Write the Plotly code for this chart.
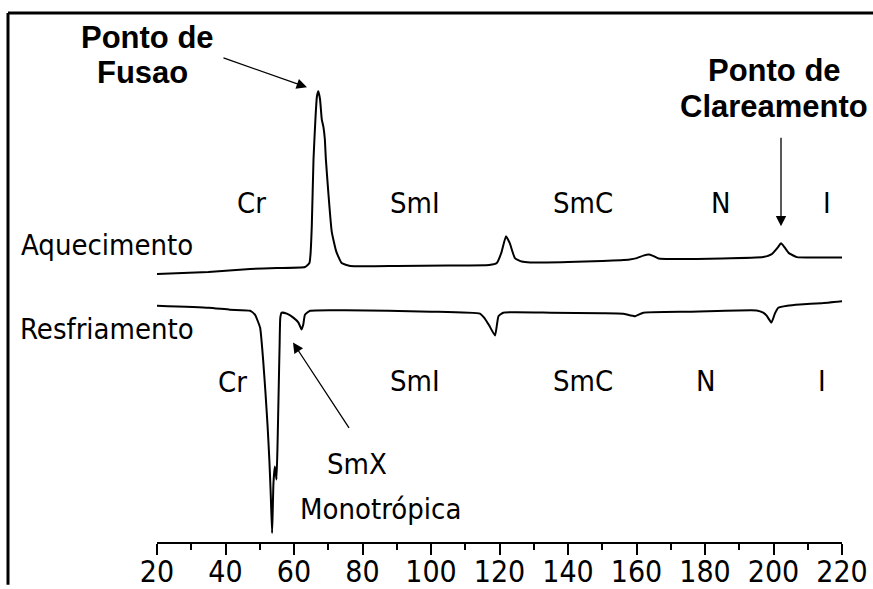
import plotly.graph_objects as go

# ---- data (temperature in °C, heat flow in arbitrary units) ----
heat_T = [20, 35, 47.2, 55, 63.2, 64.5, 64.8, 65.2, 65.7, 66.3, 66.7, 67.1, 67.6, 68.1, 68.6, 69.0,
          69.3, 70.0, 71.0, 72.3, 73.9, 76.4, 90, 105, 117, 119.2, 120.5, 121.9, 123.0, 124.5,
          126.5, 129, 140, 150, 158, 160.1, 162, 163.7, 165, 166.5, 170, 185, 197, 199.5,
          201.3, 202.2, 203.2, 204.5, 206.8, 212, 220]
heat_Q = [270, 272, 275, 276, 277, 281, 289, 319, 386, 429, 449, 454, 446, 426, 418, 406,
          386, 353, 313, 293, 281, 278, 278, 278.5, 279, 281, 291, 308, 301, 286,
          282.5, 281.5, 282, 283, 284.5, 286, 288.5, 289.5, 288, 285.5, 285, 285.5, 287, 290,
          297, 301, 297, 291, 287, 286.5, 286.5]

cool_T = [20, 35, 41.3, 47.2, 48.6, 50.1, 51.0, 51.7, 52.3, 52.8, 53.2, 53.6, 53.8, 54.0, 54.4,
          54.7, 54.9, 55.2, 55.5, 55.8, 56.0, 56.4, 57.9, 59.8, 61.3, 62.2, 62.7, 63.2, 64.7,
          75, 100, 114.3, 115.5, 117, 118.7, 119.7, 121.1, 135, 150, 156.1, 159.6, 162, 175,
          195.1, 197, 198.0, 199.4, 200.4, 201.4, 204, 207.7, 214, 220]
cool_Q = [238, 236, 234, 233, 229, 216, 183, 149, 116, 83, 49, 9, 33, 59, 76,
          69, 63, 99, 149, 199, 226, 231, 230, 226, 221, 214, 219, 229, 233,
          233.5, 232, 230, 226, 218, 208, 227.5, 231, 231, 230.5, 230, 227.5, 231, 232,
          233.3, 231, 228, 221, 230, 236, 238, 239.3, 240.5, 242.5]

x_ticks = [20, 40, 60, 80, 100, 120, 140, 160, 180, 200, 220]

# ---- layout helpers (pixel -> paper) ----
L, R, T, B = 157, 31, 0, 43
W, H = 873, 589
PW, PH = W - L - R, H - T - B


def px(x):
    return (x - L) / PW


def py(y):
    return (H - B - y) / PH


NORMAL = "DejaVu Sans Condensed, Liberation Sans Narrow, DejaVu Sans"
NARROW = "Liberation Sans Narrow, DejaVu Sans Condensed, sans-serif"
BOLD = "Liberation Sans, Arial, sans-serif"

fig = go.Figure()
fig.add_trace(go.Scatter(x=heat_T, y=heat_Q, mode="lines", name="Aquecimento",
                         line=dict(color="black", width=2, shape="spline", smoothing=0.4)))
fig.add_trace(go.Scatter(x=cool_T, y=cool_Q, mode="lines", name="Resfriamento",
                         line=dict(color="black", width=2, shape="spline", smoothing=0.4)))

annotations = []


def txt(s, x, y, size=29, family=NORMAL, bold=False):
    annotations.append(dict(text=("<b>%s</b>" % s) if bold else s, x=px(x), y=py(y),
                            xref="paper", yref="paper", showarrow=False,
                            xanchor="center", yanchor="middle",
                            font=dict(family=family, size=size, color="black")))


def arrow(x0, y0, x1, y1):
    annotations.append(dict(text="", x=px(x1), y=py(y1), ax=x0 - x1, ay=y0 - y1,
                            xref="paper", yref="paper", axref="pixel", ayref="pixel",
                            showarrow=True, arrowhead=2, arrowsize=1.6, arrowwidth=1.3,
                            arrowcolor="black", standoff=0))


# heating labels
txt("Cr", 251, 205)
txt("SmI", 415, 205)
txt("SmC", 583, 205)
txt("N", 721, 205)
txt("I", 827, 205)
txt("Aquecimento", 107, 247)
# cooling labels
txt("Resfriamento", 107, 331)
txt("Cr", 232, 385)
txt("SmI", 415, 384)
txt("SmC", 583, 384)
txt("N", 706, 384)
txt("I", 822, 384)
txt("SmX", 357, 467)
txt("Monotrópica", 380, 513)
# bold callouts
txt("Ponto de", 147, 38, size=31, family=BOLD, bold=True)
txt("Fusao", 142, 73, size=31, family=BOLD, bold=True)
txt("Ponto de", 774, 71, size=31, family=BOLD, bold=True)
txt("Clareamento", 774, 107, size=31, family=BOLD, bold=True)

arrow(222, 58, 307, 88)
arrow(781, 138, 781, 228)
arrow(350, 432, 293, 345)

fig.update_layout(
    width=W, height=H,
    margin=dict(l=L, r=R, t=T, b=B),
    paper_bgcolor="white", plot_bgcolor="white",
    showlegend=False,
    annotations=annotations,
    shapes=[
        dict(type="line", xref="paper", yref="paper", x0=px(8), x1=px(873), y0=py(13), y1=py(13),
             line=dict(color="black", width=3)),
        dict(type="line", xref="paper", yref="paper", x0=px(8), x1=px(8), y0=py(13), y1=py(589),
             line=dict(color="black", width=3)),
    ],
)
fig.update_xaxes(range=[20, 220], tickvals=x_ticks, ticktext=[str(v) for v in x_ticks],
                 showline=True, linecolor="black", linewidth=2, ticks="outside",
                 ticklen=11, tickwidth=2, tickcolor="black", showgrid=False, zeroline=False,
                 ticklabelstandoff=-9,
                 tickfont=dict(family=NARROW, size=30, color="black"),
                 minor=dict(dtick=10, tick0=20, ticks="outside", ticklen=6, tickwidth=2,
                            tickcolor="black", showgrid=False))
fig.update_yaxes(range=[0, PH], visible=False)

fig.write_html("out.html", config={"displayModeBar": False},
               post_script="document.body.style.margin='0';"
                           "document.body.style.overflow='hidden';")
